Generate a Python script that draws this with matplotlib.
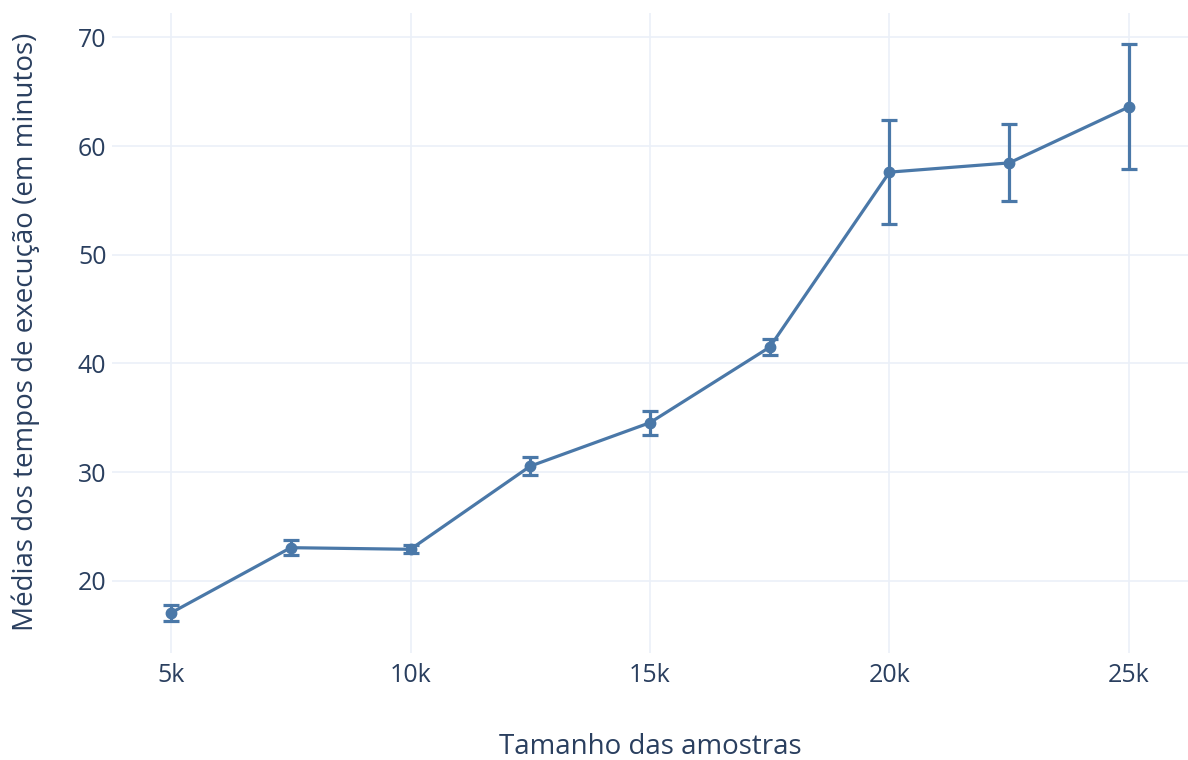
import matplotlib.pyplot as plt
import numpy as np

# tamanho das amostras e medias dos tempos (minutos)
amostras = [5000, 7500, 10000, 12500, 15000, 17500, 20000, 22500, 25000]
medias = [17.05, 23.05, 22.9, 30.55, 34.55, 41.5, 57.6, 58.45, 63.6]
erros = [0.75, 0.7, 0.35, 0.8, 1.1, 0.75, 4.8, 3.55, 5.75]
xtick_vals = [5000, 10000, 15000, 20000, 25000]
xtick_lbls = ["5k", "10k", "15k", "20k", "25k"]
ytick_vals = [20, 30, 40, 50, 60, 70]

cor = "#4a78a8"
txt = "#2a3f5f"
grid = "#ebf0f8"

plt.rcParams['font.family'] = ['Open Sans', 'DejaVu Sans']

fig = plt.figure(figsize=(11.88, 7.6), dpi=100)
ax = fig.add_axes([112/1188, 1 - 653/760, (1188-112)/1188, (653-13)/760])

ax.errorbar(amostras, medias, yerr=erros, color=cor, lw=2.3, marker="o", ms=7.5,
            elinewidth=2.3, capsize=5.5, capthick=2.3, zorder=3)

ax.set_xlim(3768, 26232)
ax.set_ylim(13.36, 72.24)
ax.set_xticks(xtick_vals)
ax.set_xticklabels(xtick_lbls)
ax.set_yticks(ytick_vals)
ax.grid(True, color=grid, lw=1.2, zorder=0)
ax.set_axisbelow(True)
for s in ax.spines.values():
    s.set_visible(False)
ax.tick_params(length=0, labelsize=18, colors=txt, pad=4)
ax.tick_params(axis="x", pad=7)

fig.text(650/1188, 1 - 747/760, "Tamanho das amostras", ha="center", va="center",
         fontsize=20, color=txt)
fig.text(26/1188, 1 - 332/760, "Médias dos tempos de execução (em minutos)", ha="center",
         va="center", rotation=90, fontsize=20, color=txt)

fig.savefig("out.png", dpi=100)
